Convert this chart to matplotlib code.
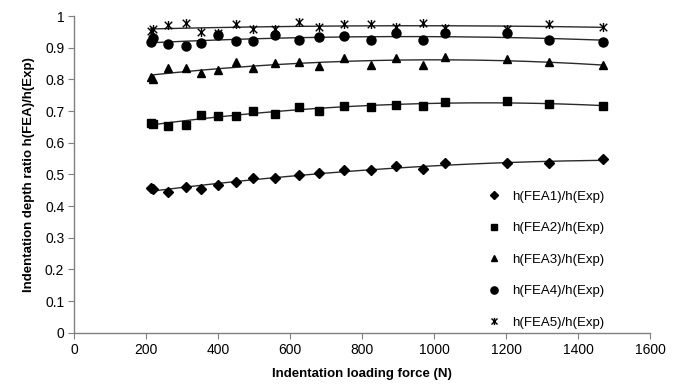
import numpy as np
import matplotlib
matplotlib.use('Agg')
import matplotlib.pyplot as plt
from matplotlib.path import Path

plt.rcParams['font.family'] = ['Liberation Sans', 'DejaVu Sans']

force = [213, 220, 260, 310, 353, 400, 450, 497, 557, 624, 681, 749, 824, 894, 969, 1031, 1202, 1318, 1469]

fea1 = [0.458, 0.455, 0.444, 0.460, 0.454, 0.466, 0.475, 0.488, 0.488, 0.499, 0.504, 0.514, 0.514, 0.526, 0.517, 0.537, 0.535, 0.535, 0.548]
fea2 = [0.662, 0.660, 0.652, 0.657, 0.688, 0.685, 0.685, 0.701, 0.691, 0.714, 0.701, 0.717, 0.714, 0.720, 0.717, 0.728, 0.733, 0.722, 0.716]
fea3 = [0.809, 0.800, 0.835, 0.835, 0.819, 0.830, 0.854, 0.835, 0.851, 0.856, 0.843, 0.868, 0.845, 0.868, 0.845, 0.871, 0.863, 0.854, 0.845]
fea4 = [0.919, 0.932, 0.912, 0.907, 0.914, 0.940, 0.921, 0.921, 0.940, 0.924, 0.933, 0.937, 0.924, 0.945, 0.924, 0.945, 0.945, 0.926, 0.918]
fea5 = [0.954, 0.958, 0.972, 0.977, 0.951, 0.947, 0.975, 0.958, 0.958, 0.982, 0.964, 0.975, 0.975, 0.964, 0.979, 0.961, 0.958, 0.975, 0.964]

labels = ['h(FEA1)/h(Exp)', 'h(FEA2)/h(Exp)', 'h(FEA3)/h(Exp)',
          'h(FEA4)/h(Exp)', 'h(FEA5)/h(Exp)']

# excel style star: X with a vertical bar
star = Path([(-1, -1), (1, 1), (-1, 1), (1, -1), (0, -1.2), (0, 1.2)],
            [Path.MOVETO, Path.LINETO, Path.MOVETO, Path.LINETO, Path.MOVETO, Path.LINETO])

markers = ['D', 's', '^', 'o', star]
sizes = [5, 5.5, 6, 6.5, 6.5]

fig = plt.figure(figsize=(6.82, 3.92), dpi=100)
ax = fig.add_axes([0.1085, 0.151, 0.845, 0.808])

x = np.array(force)
xs = np.linspace(x.min(), x.max(), 200)
for ys, m, s, lab in zip([fea1, fea2, fea3, fea4, fea5], markers, sizes, labels):
    if m is star:
        ax.plot(x, ys, linestyle='none', marker=m, ms=s, mec='black', mfc='none',
                mew=1.0, label=lab, zorder=3)
    else:
        ax.plot(x, ys, linestyle='none', marker=m, ms=s, color='black',
                label=lab, zorder=3)
    c = np.polyfit(x, ys, 2)
    ax.plot(xs, np.polyval(c, xs), color='#2a2a2a', lw=1.0, zorder=2)

ax.set_xlim(0, 1600)
ax.set_ylim(0, 1)
ax.set_xticks(range(0, 1601, 200))
ax.set_yticks(np.arange(0, 1.01, 0.1))
ax.set_yticklabels(['0', '0.1', '0.2', '0.3', '0.4', '0.5', '0.6', '0.7', '0.8', '0.9', '1'])

for sp in ['top', 'right']:
    ax.spines[sp].set_visible(False)
for sp in ['left', 'bottom']:
    ax.spines[sp].set_color('#808080')
    ax.spines[sp].set_linewidth(1.0)
ax.tick_params(direction='out', length=4, color='#808080', labelsize=10, pad=3)

ax.set_xlabel('Indentation loading force (N)', fontsize=9.5, fontweight='bold', labelpad=8)
ax.set_ylabel('Indentation depth ratio h(FEA)/h(Exp)', fontsize=9.5, fontweight='bold', labelpad=7)

ax.legend(loc='upper left', bbox_to_anchor=(0.705, 0.53), bbox_transform=fig.transFigure,
          frameon=False, fontsize=9.5, handlelength=1.0, handletextpad=0.9,
          labelspacing=1.45, borderpad=0, markerscale=0.8)

fig.savefig('out.png', dpi=100)
